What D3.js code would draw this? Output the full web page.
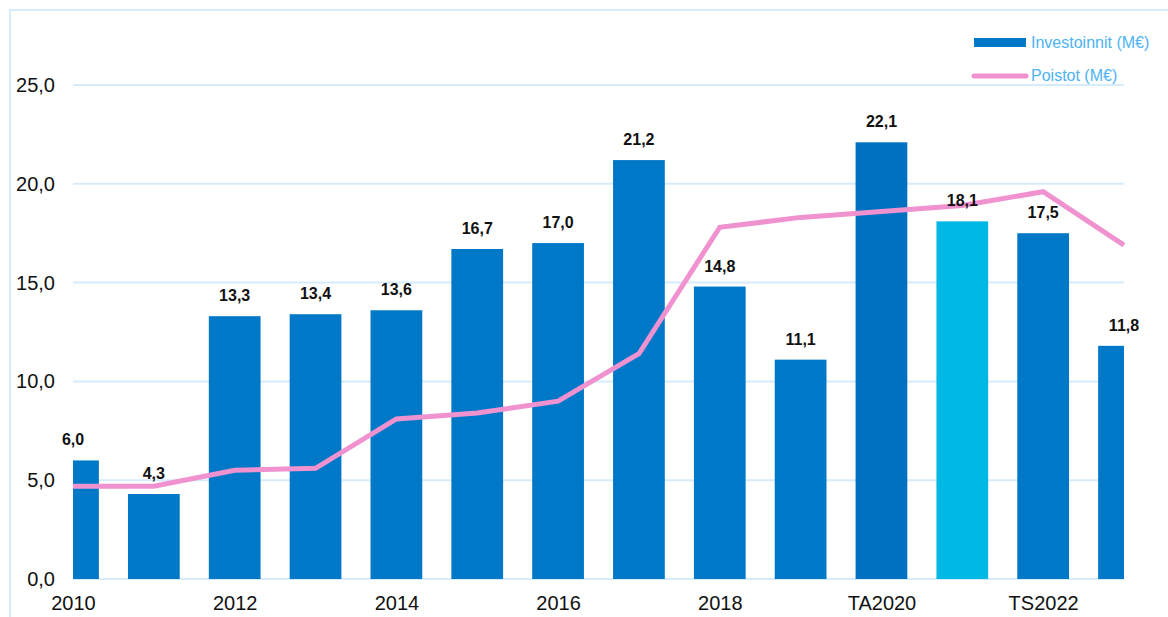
<!DOCTYPE html>
<html>
<head>
<meta charset="utf-8">
<script src="https://cdn.jsdelivr.net/npm/d3@7"></script>
<style>
  body { margin: 0; background: #fff; }
  svg { display: block; font-family: "Liberation Sans", Arial, sans-serif; }
</style>
</head>
<body>
<script>
// Data
var years = ["2010", "2011", "2012", "2013", "2014", "2015", "2016", "2017",
             "2018", "2019", "TA2020", "TA2021", "TS2022", "TS2023"];
var investoinnit = [6.0, 4.3, 13.3, 13.4, 13.6, 16.7, 17.0, 21.2, 14.8, 11.1, 22.1, 18.1, 17.5, 11.8];
var poistot = [4.7, 4.7, 5.5, 5.6, 8.1, 8.4, 9.0, 11.4, 17.8, 18.3, 18.6, 18.9, 19.6, 16.9];
var yTicks = [0, 5, 10, 15, 20, 25];
var seriesNames = ["Investoinnit (M\u20ac)", "Poistot (M\u20ac)"];

// Width and height
var w = 1168;
var h = 617;
var plotLeft = 73, plotRight = 1124, plotTop = 85, plotBottom = 579;

var barColor = "#0078c8";
var barColors = { "TA2020": "#0070c0", "TA2021": "#00b8e4" };
var lineColor = "#f092d0";
var gridColor = "#d6ebfb";

var svg = d3.select("body")
            .append("svg")
            .attr("width", w)
            .attr("height", h);

// Frame
svg.append("rect")
  .attr("x", 10)
  .attr("y", 10)
  .attr("width", w + 20)
  .attr("height", h + 20)
  .attr("fill", "none")
  .attr("stroke", gridColor)
  .attr("stroke-width", 2);

// Scales
var xScale = d3.scalePoint()
               .domain(years)
               .range([plotLeft, plotRight]);

var yScale = d3.scaleLinear()
               .domain([0, 25])
               .range([plotBottom, plotTop]);

var barW = xScale.step() * 0.64;

// Gridlines
svg.append("g")
  .selectAll("line")
  .data(yTicks)
  .enter()
  .append("line")
  .attr("x1", plotLeft)
  .attr("x2", plotRight)
  .attr("y1", function(d) { return yScale(d); })
  .attr("y2", function(d) { return yScale(d); })
  .attr("stroke", gridColor)
  .attr("stroke-width", 2);

// Y axis labels
var fmt = function(d) { return d3.format(".1f")(d).replace(".", ","); };

var yAxis = d3.axisLeft(yScale)
              .tickValues(yTicks)
              .tickFormat(fmt)
              .tickSize(0)
              .tickPadding(18);

svg.append("g")
  .attr("transform", "translate(" + plotLeft + ",0)")
  .call(yAxis)
  .call(function(g) {
    g.select(".domain").remove();
    g.selectAll("text")
      .attr("font-size", "20px")
      .attr("font-family", "Liberation Sans, Arial, sans-serif")
      .attr("fill", "#111");
  });

// X axis labels (every other)
var xAxis = d3.axisBottom(xScale)
              .tickValues(years.filter(function(d, i) { return i % 2 === 0; }))
              .tickSize(0)
              .tickPadding(17);

svg.append("g")
  .attr("transform", "translate(0," + plotBottom + ")")
  .call(xAxis)
  .call(function(g) {
    g.select(".domain").remove();
    g.selectAll("text")
      .attr("font-size", "20px")
      .attr("font-family", "Liberation Sans, Arial, sans-serif")
      .attr("fill", "#111");
  });

// Clip for bars
svg.append("clipPath")
  .attr("id", "plot")
  .append("rect")
  .attr("x", plotLeft)
  .attr("y", 0)
  .attr("width", plotRight - plotLeft)
  .attr("height", plotBottom);

// Bars
svg.append("g")
  .attr("clip-path", "url(#plot)")
  .selectAll("rect")
  .data(investoinnit)
  .enter()
  .append("rect")
  .attr("x", function(d, i) { return xScale(years[i]) - barW / 2; })
  .attr("y", function(d) { return yScale(d); })
  .attr("width", barW)
  .attr("height", function(d) { return plotBottom - yScale(d); })
  .attr("fill", function(d, i) { return barColors[years[i]] || barColor; });

// Line
var line = d3.line()
             .x(function(d, i) { return xScale(years[i]); })
             .y(function(d) { return yScale(d); });

svg.append("path")
  .datum(poistot)
  .attr("d", line)
  .attr("fill", "none")
  .attr("stroke", lineColor)
  .attr("stroke-width", 5);

// Bar value labels
svg.append("g")
  .selectAll("text")
  .data(investoinnit)
  .enter()
  .append("text")
  .text(function(d) { return fmt(d); })
  .attr("x", function(d, i) { return xScale(years[i]); })
  .attr("y", function(d) { return yScale(d) - 15; })
  .attr("text-anchor", "middle")
  .attr("font-size", "16px")
  .attr("font-weight", "bold")
  .attr("fill", "#111");

// Legend
var legend = svg.append("g");

legend.append("rect")
  .attr("x", 974)
  .attr("y", 38)
  .attr("width", 52)
  .attr("height", 9)
  .attr("fill", barColor);

legend.append("line")
  .attr("x1", 974)
  .attr("x2", 1026)
  .attr("y1", 76)
  .attr("y2", 76)
  .attr("stroke", lineColor)
  .attr("stroke-width", 5)
  .attr("stroke-linecap", "round");

legend.selectAll("text")
  .data(seriesNames)
  .enter()
  .append("text")
  .text(function(d) { return d; })
  .attr("x", 1031)
  .attr("y", function(d, i) { return 48 + i * 33; })
  .attr("font-size", "16px")
  .attr("fill", "#4db3f2");
</script>
</body>
</html>
